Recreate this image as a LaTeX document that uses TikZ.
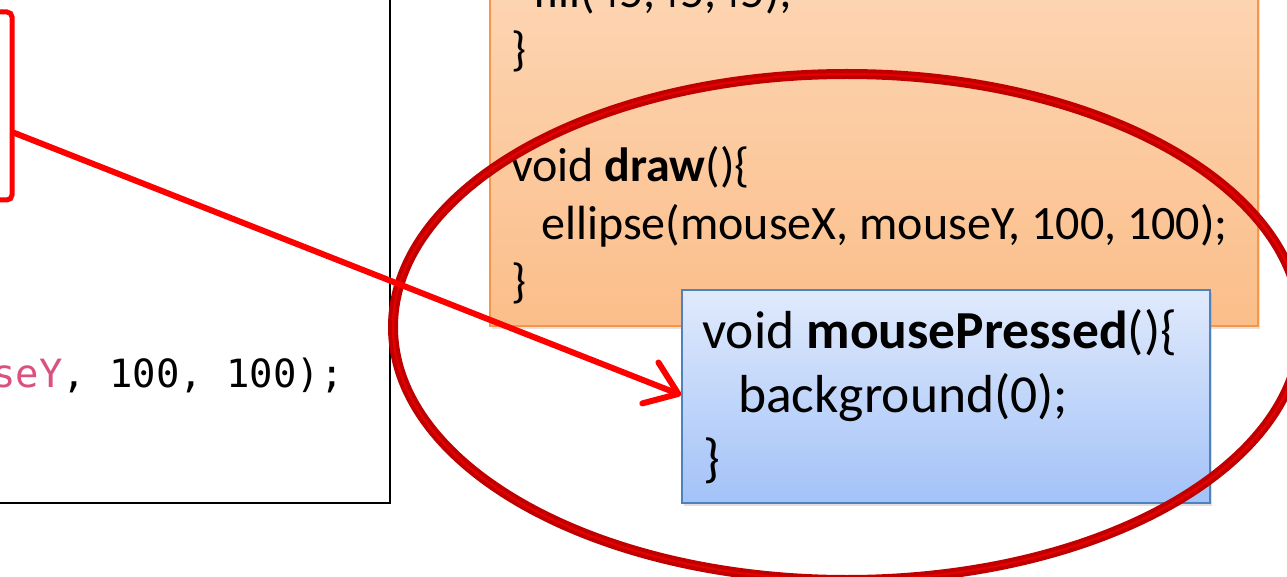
\documentclass[tikz,border=0pt]{standalone}
\usepackage{fontspec}
\setmainfont{Carlito}
\newfontfamily\monofont{DejaVu Sans Mono}
\usetikzlibrary{arrows.meta,shadows}
\definecolor{hlred}{RGB}{255,0,0}
\definecolor{elred}{RGB}{192,0,0}
\definecolor{elin}{RGB}{232,0,0}
\definecolor{orTop}{RGB}{253,216,184}
\definecolor{orBot}{RGB}{251,190,138}
\definecolor{orEdge}{RGB}{247,150,70}
\definecolor{blTop}{RGB}{224,234,252}
\definecolor{blBot}{RGB}{163,194,248}
\definecolor{blEdge}{RGB}{79,129,189}
\definecolor{kw}{RGB}{217,82,127}
\begin{document}
\begin{tikzpicture}[x=1pt,y=-1pt,
  codeL/.style={anchor=base west, inner sep=0pt, font=\fontsize{48}{57}\selectfont},
  codeB/.style={anchor=base west, inner sep=0pt, font=\fontsize{53.5}{64}\selectfont},
  mono/.style={anchor=base west, inner sep=0pt, font=\monofont\fontsize{38.9}{46}\selectfont},
  hlbox/.style={draw=hlred, line width=5pt, rounded corners=5pt},
  obox/.style={draw=orEdge, line width=1.5pt, top color=orTop, bottom color=orBot,
     drop shadow={shadow xshift=2pt, shadow yshift=-3pt, opacity=0.22}},
  bbox/.style={draw=blEdge, line width=1.8pt, top color=blTop, bottom color=blBot,
     drop shadow={shadow xshift=2pt, shadow yshift=-3pt, opacity=0.25}},
  arr/.style={draw=hlred, line width=6pt, line cap=round, line join=round,
     -{Straight Barb[length=30pt,width=44pt,round]}}
]
\useasboundingbox (0,0) rectangle (1287,577);
\fill[white] (0,0) rectangle (1287,577);

% left code panel (screenshot)
\draw[line width=1.6pt] (-5,503) -- (390,503) -- (390,-5);
\node[mono] (mt) at (-8,387) {\textcolor{kw}{seY}, 100, 100);};

% red highlight box
\node[hlbox, minimum width=212pt, minimum height=188pt] (hl) at (-94,106) {};

% orange code box
\node[obox, minimum width=768pt, minimum height=386pt] (ob) at (874,133) {};
\node[codeL] (o1) at (533,8) {fill(45,45,45);};
\node[codeL] (o2) at (511,66) {\}};
\node[codeL] (o3) at (511,182) {void \textbf{draw}()\{};
\node[codeL] (o4) at (541,240) {ellipse(mouseX, mouseY, 100, 100);};
\node[codeL] (o5) at (511,298) {\}};

% blue code box
\node[bbox, minimum width=528pt, minimum height=213pt] (mp) at (946,396.5) {};
\node[codeB] (b1) at (702,348) {void \textbf{mousePressed}()\{};
\node[codeB] (b2) at (738,412) {background(0);};
\node[codeB] (b3) at (703,476) {\}};

% big ellipse
\draw[elred, line width=10pt] (847,327) ellipse [x radius=454pt, y radius=253pt];
\draw[elin, line width=2pt] (847,327) ellipse [x radius=454pt, y radius=253pt];

% arrow
\draw[arr] (hl.east |- 0,133) -- (mp.west |- 0,395);
\end{tikzpicture}
\end{document}
